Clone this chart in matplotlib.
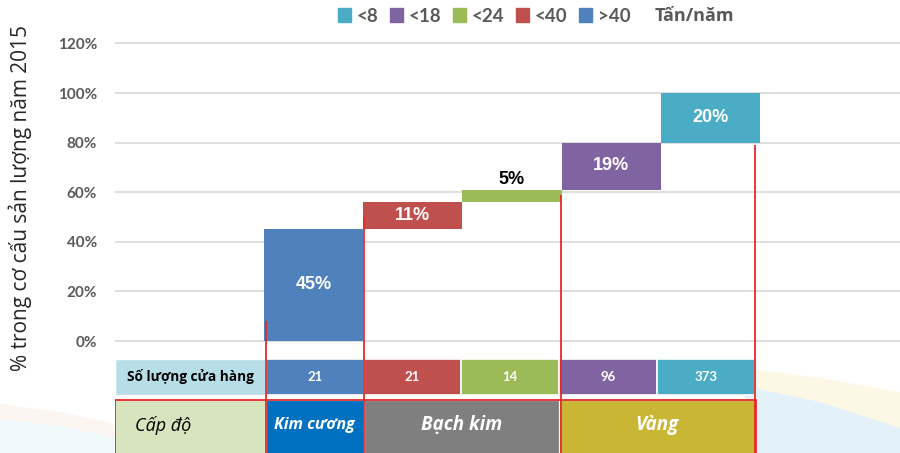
import matplotlib.pyplot as plt
from matplotlib.patches import Patch, Rectangle, Polygon
import numpy as np

# ------------------------------------------------------------
# Data
# ------------------------------------------------------------
groups = ['>40', '<40', '<24', '<18', '<8']          # tons / year
shares = [45, 11, 5, 19, 20]                         # % of 2015 output
store_counts = [21, 21, 14, 96, 373]
group_colors = ['#4f81bd', '#c0504d', '#9bbb59', '#8064a2', '#4bacc6']

levels = ['Kim cương', 'Bạch kim', 'Vàng']
level_cols = [(0, 1), (1, 3), (3, 5)]                # table columns per level
level_colors = ['#0070c0', '#7f7f7f', '#c9b634']

# red guide lines: table column boundary and the % height they reach
guide_cols = [0, 1, 3, 5]
guide_tops = [8, 50, 59, 79]

VN_FONT = ['Open Sans', 'DejaVu Sans']
NUM_FONT = ['Lato', 'Open Sans', 'DejaVu Sans']
LBL_FONT = ['Liberation Sans Narrow', 'Liberation Sans', 'DejaVu Sans']
GREY = '#595959'
RED = '#e8292b'

# ------------------------------------------------------------
# Figure + background decoration
# ------------------------------------------------------------
fig = plt.figure(figsize=(9, 4.53), dpi=100, facecolor='white')

bg = fig.add_axes([0, 0, 1, 1], zorder=-1)
bg.set_xlim(0, 900)
bg.set_ylim(453, 0)
bg.axis('off')
bg.add_patch(Polygon([(745, 368), (820, 378), (900, 392), (900, 430),
                      (820, 402), (745, 386)], closed=True,
                     color='#fdf7e6', lw=0))
bg.add_patch(Polygon([(745, 386), (820, 402), (900, 428), (900, 453),
                      (745, 453)], closed=True, color='#e3f2f9', lw=0))
bg.add_patch(Polygon([(0, 404), (60, 412), (115, 424), (115, 438),
                      (60, 426), (0, 420)], closed=True,
                     color='#fdf5f2', lw=0))
bg.add_patch(Polygon([(0, 420), (60, 426), (115, 438), (115, 453),
                      (0, 453)], closed=True, color='#eff8fb', lw=0))

# ------------------------------------------------------------
# Waterfall bars
# ------------------------------------------------------------
ax = fig.add_axes([115 / 900, 0, 785 / 900, 1])
ax.set_facecolor('none')
ax.set_xlim(-2.0, 5.91)
ax.set_ylim(-45.16, 137.5)

x = np.arange(len(shares))
bottoms = np.concatenate([[0], np.cumsum(shares)[:-1]])
ax.bar(x, shares, width=1.0, bottom=bottoms, color=group_colors,
       lw=0, zorder=3)

for xi, b, v in zip(x, bottoms, shares):
    if v < 8:
        ax.text(xi, b + v + 0.8, f'{v}%', ha='center', va='bottom',
                fontsize=13, fontweight='bold', color='black',
                family=LBL_FONT, zorder=4)
    else:
        ax.text(xi, b + v / 2 + 0.3, f'{v}%', ha='center', va='center',
                fontsize=13, fontweight='bold', color='white',
                family=LBL_FONT, zorder=4)

yt = np.arange(0, 121, 20)
ax.set_yticks(yt)
ax.set_yticklabels([f'{v}%' for v in yt], family=NUM_FONT,
                   fontweight='bold', fontsize=11, color=GREY)
ax.set_xticks([])
ax.tick_params(axis='y', length=0, pad=13)
ax.grid(axis='y', color='#dcdcdc', lw=1.3)
ax.set_axisbelow(True)
for s in ax.spines.values():
    s.set_visible(False)

# ------------------------------------------------------------
# Table below the chart
# ------------------------------------------------------------
TW = 0.985


def col_left(k):
    return -0.48 + TW * k


row1 = (-21.77, -7.26)
row2 = (-46.5, -23.6)
row2_mid = -33.9

ax.add_patch(Rectangle((-2.0, row1[0]), col_left(0) - (-2.0),
                       row1[1] - row1[0], fc='#b7dee8', ec='white', lw=1))
ax.text((-2.0 + col_left(0)) / 2, sum(row1) / 2, 'Số lượng cửa hàng',
        ha='center', va='center', fontsize=9.8, fontweight='bold',
        color='black', family=VN_FONT)
for k, (n, c) in enumerate(zip(store_counts, group_colors)):
    ax.add_patch(Rectangle((col_left(k), row1[0]), TW, row1[1] - row1[0],
                           fc=c, ec='white', lw=1.2))
    ax.text(col_left(k) + TW / 2, sum(row1) / 2, str(n), ha='center',
            va='center', fontsize=9.5, fontweight='bold', color='white',
            family=NUM_FONT)

ax.add_patch(Rectangle((-2.0, row2[0]), col_left(0) - (-2.0),
                       row2[1] - row2[0], fc='#d7e4bd', lw=0))
ax.text(-1.80, row2_mid, 'Cấp độ', ha='left', va='center', fontsize=13,
        style='italic', color='black', family=VN_FONT)
for name, (a, b), c in zip(levels, level_cols, level_colors):
    ax.add_patch(Rectangle((col_left(a), row2[0]), col_left(b) - col_left(a),
                           row2[1] - row2[0], fc=c, ec='white', lw=0.8))
    ax.text((col_left(a) + col_left(b)) / 2, row2_mid, name, ha='center',
            va='center', fontsize=11.5 if b - a == 1 else 13.5,
            fontweight='bold', style='italic', color='white',
            family=VN_FONT)

ax.add_patch(Rectangle((-2.0 + 0.005, row2[0]), col_left(5) + 0.01 - (-2.0),
                       row2[1] - row2[0], fill=False, ec=RED, lw=1.3,
                       zorder=5))

for k, top in zip(guide_cols, guide_tops):
    ax.vlines(col_left(k) + (0.02 if k == 3 else 0), row2[0], top,
              color=RED, lw=1.3, zorder=5)

# ------------------------------------------------------------
# Legend + axis title
# ------------------------------------------------------------
handles = [Patch(color=c) for c in group_colors[::-1]]
fig.legend(handles, groups[::-1], ncol=5, loc='center left',
           bbox_to_anchor=(338 / 900, 1 - 16 / 453), frameon=False,
           handlelength=0.7, handleheight=0.7, handletextpad=0.3,
           columnspacing=0.62, borderaxespad=0, borderpad=0,
           prop={'family': NUM_FONT, 'weight': 'bold', 'size': 13.5},
           labelcolor=GREY)
fig.text(655 / 900, 1 - 16 / 453, 'Tấn/năm', ha='left', va='center',
         fontsize=13, fontweight='bold', color=GREY, family=VN_FONT)

fig.text(20 / 900, 1 - 198 / 453, '% trong cơ cấu sản lượng năm 2015',
         rotation=90, ha='center', va='center', fontsize=15,
         color='#262626', family=VN_FONT)

fig.savefig('out.png', dpi=100, facecolor='white')
